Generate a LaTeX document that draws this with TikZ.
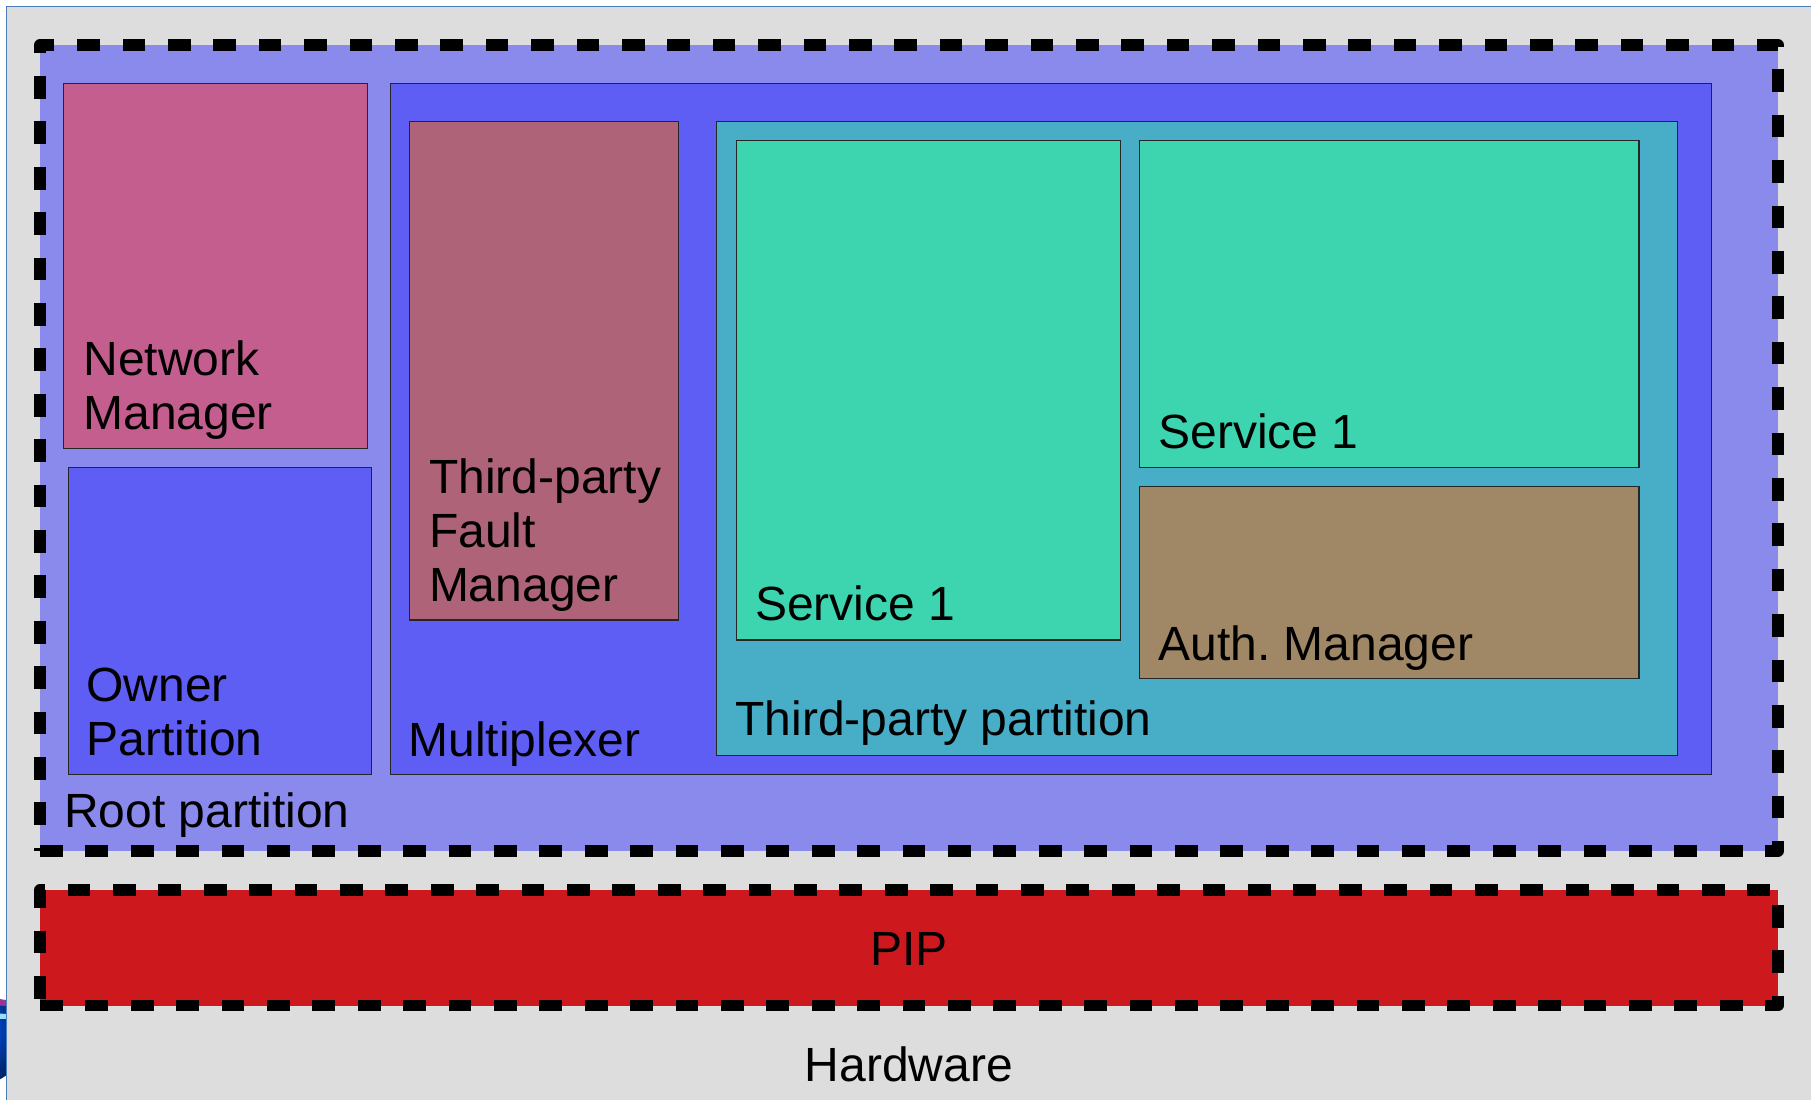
\documentclass[tikz,border=0pt]{standalone}
\usepackage{fontspec}
\setmainfont{Liberation Sans}
\definecolor{bggray}{HTML}{DDDDDD}
\definecolor{frameblue}{HTML}{4A7EBB}
\definecolor{rootcol}{HTML}{8A89EC}
\definecolor{nmcol}{HTML}{C45E8E}
\definecolor{owncol}{HTML}{5E5EF5}
\definecolor{fmcol}{HTML}{AE6379}
\definecolor{tppcol}{HTML}{48ADC6}
\definecolor{svccol}{HTML}{3DD5B0}
\definecolor{authcol}{HTML}{A08765}
\definecolor{pipcol}{HTML}{CD181E}
\tikzset{
  box/.style={rectangle, draw=black!85, line width=1.3pt, inner sep=0pt, outer sep=0pt, anchor=north west},
  dashframe/.style={rectangle, draw=black, line width=11.5pt, line join=round,
    dash pattern=on 22.7pt off 22.7pt, inner sep=0pt, outer sep=0pt, anchor=north west},
  lbl/.style={inner sep=0pt, outer sep=0pt, anchor=base west, align=left,
    font=\fontsize{48}{54}\selectfont, text=black},
  clbl/.style={lbl, anchor=base}
}
\begin{document}
\begin{tikzpicture}[x=1pt, y=-1pt]
\useasboundingbox (0,0) rectangle (1811,1100);
% page and grey canvas
\fill[white] (0,0) rectangle (1811,1100);
\fill[bggray] (6.5,6.5) rectangle (1811,1100);
\draw[frameblue, line width=1.2pt] (6.5,1100) -- (6.5,6.5) -- (1811,6.5);
% sliver of an icon at the left edge
\begin{scope}
  \clip (0,992) rectangle (5.8,1085);
  \shade[ball color=blue!65!cyan] (-20,1040) circle (44);
  \fill[violet!80] (-20,996) -- (6,1000) -- (6,1006) -- (-20,1004) -- cycle;
  \fill[cyan!40] (-20,1012) -- (6,1014) -- (6,1019) -- (-20,1018) -- cycle;
\end{scope}

% root partition
\node (root) [dashframe, fill=rootcol, minimum width=1738pt, minimum height=806pt] at (40,45) {};
% PIP layer
\node (pip) [dashframe, fill=pipcol, minimum width=1738pt, minimum height=115.5pt] at (40,890) {};

% left column
\node (nm) [box, fill=nmcol, minimum width=303.6pt, minimum height=365pt] at (63.7,83.3) {};
\node (own) [box, fill=owncol, minimum width=303pt, minimum height=307.4pt] at (68.3,467.3) {};

% multiplexer and its contents
\node (mux) [box, fill=owncol, minimum width=1321pt, minimum height=691pt] at (390.3,83.3) {};
\node (tpfm) [box, fill=fmcol, minimum width=268.6pt, minimum height=498.3pt] at (409.7,121.7) {};
\node (tpp) [box, fill=tppcol, minimum width=960.5pt, minimum height=633.5pt] at (716.8,121.7) {};
\node (svca) [box, fill=svccol, minimum width=384.2pt, minimum height=499.3pt] at (736.4,140.7) {};
\node (svcb) [box, fill=svccol, minimum width=499.5pt, minimum height=326.6pt] at (1139.5,140.7) {};
\node (auth) [box, fill=authcol, minimum width=499.5pt, minimum height=192pt] at (1139.5,486.7) {};

% labels
\node (lnm1) [lbl] at (83.5,375) {Network};
\node (lnm2) [lbl] at (83.5,429) {Manager};
\node (lown1) [lbl] at (86.5,701.7) {Owner};
\node (lown2) [lbl] at (86.5,755.5) {Partition};
\node (lroot) [lbl] at (64,827.3) {Root partition};
\node (lfm1) [lbl] at (429,493.3) {Third-party};
\node (lfm2) [lbl] at (429,547.5) {Fault};
\node (lfm3) [lbl] at (429,601.7) {Manager};
\node (lmux) [lbl] at (408.5,756) {Multiplexer};
\node (lsvca) [lbl] at (755,620.7) {Service 1};
\node (ltpp) [lbl] at (735.4,735) {Third-party partition};
\node (lsvcb) [lbl] at (1158.5,448.3) {Service 1};
\node (lauth) [lbl] at (1158.5,660) {Auth.\ Manager};
\node (lpip) [clbl] at (909,965) {PIP};
\node (lhw) [clbl] at (909,1081.7) {Hardware};
\end{tikzpicture}
\end{document}
